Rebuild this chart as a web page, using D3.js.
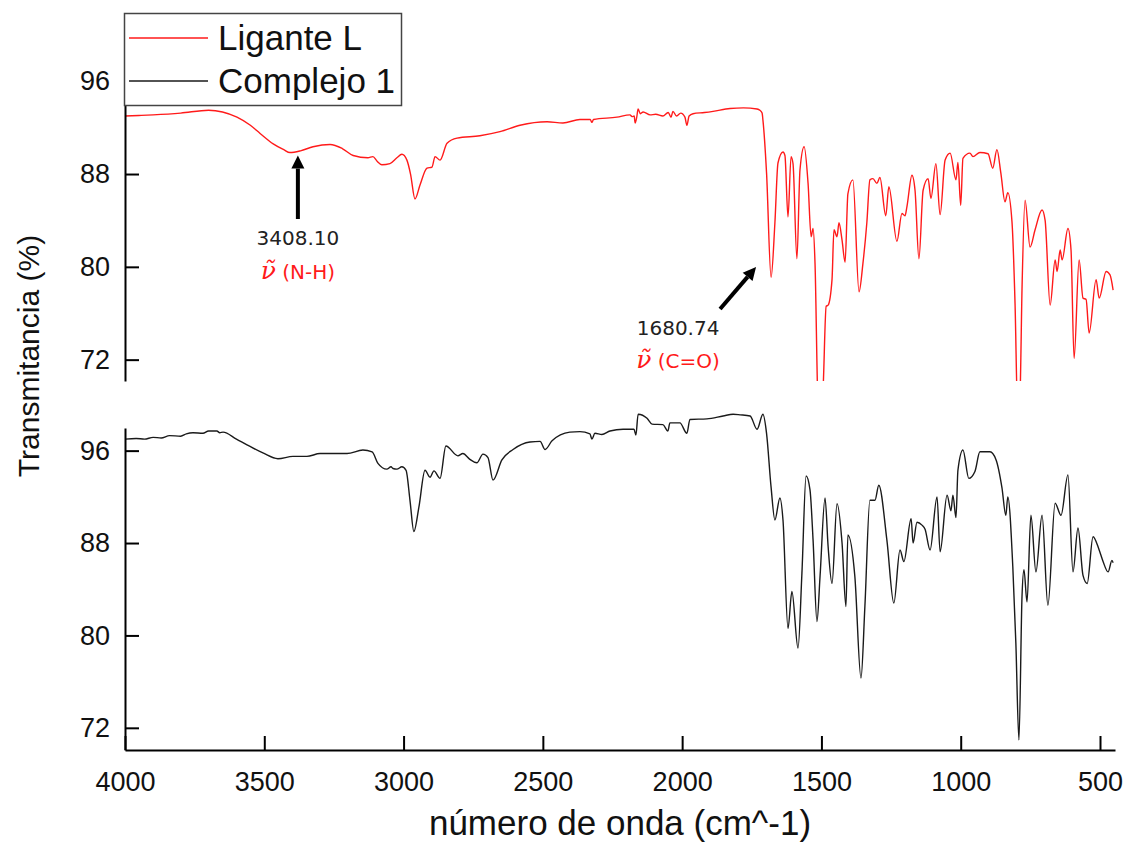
<!DOCTYPE html>
<html>
<head>
<meta charset="utf-8">
<script src="https://cdn.jsdelivr.net/npm/d3@7"></script>
<style>
  html, body { margin: 0; padding: 0; background: #fff; }
  svg { display: block; }
  .tick text { font-family: "Liberation Sans", Arial, sans-serif; fill: #111; }
</style>
</head>
<body>
<svg id="chart" width="1128" height="845"></svg>
<script>
// IR spectra: wavenumber (cm^-1) vs transmittance (%)
const ligandSpectrum = [
  [4000, 93.0], [3950, 93.05], [3899, 93.1], [3800, 93.25], [3700, 93.5], [3650, 93.35],
  [3598, 92.9], [3550, 92.2], [3515, 91.5], [3468, 90.6], [3430, 90.1], [3408.10, 89.85],
  [3370, 90.0], [3325, 90.35], [3264, 90.55], [3220, 90.2], [3181, 89.6], [3128, 89.4],
  [3110, 89.5], [3095, 89.1], [3078, 88.8], [3049, 88.9], [3024, 89.4], [3006, 89.7],
  [2988, 89.2], [2975, 88.0], [2959, 85.85], [2941, 87.05], [2916, 88.5], [2898, 88.6],
  [2887, 89.5], [2869, 89.2], [2844, 90.65], [2808, 91.1], [2726, 91.3], [2654, 91.65],
  [2582, 92.2], [2485, 92.5], [2428, 92.4], [2367, 92.7], [2330, 92.7], [2324, 92.45],
  [2318, 92.7], [2234, 92.9], [2187, 93.1], [2180, 92.95], [2172, 93.0], [2169, 92.4],
  [2163, 92.9], [2158, 93.6], [2150, 93.2], [2140, 93.35], [2115, 93.1], [2095, 93.15],
  [2069, 93.0], [2050, 93.3], [2040, 92.9], [2033, 93.4], [2020, 93.0], [2005, 93.25],
  [1990, 92.9], [1983, 92.2], [1975, 93.0], [1961, 93.2], [1920, 93.3], [1889, 93.4],
  [1828, 93.65], [1780, 93.7], [1731, 93.6], [1721, 93.5], [1713, 93.25], [1710, 92.65],
  [1697, 88.1], [1680.74, 79.1], [1667, 83.8], [1656, 88.95], [1638, 89.9], [1631, 89.6],
  [1620, 84.3], [1609, 89.5], [1602, 88.9], [1588, 80.7], [1577, 88.35], [1562, 90.35],
  [1548, 87.2], [1537, 82.6], [1530, 83.3], [1523, 80.3], [1512, 68.0], [1502, 66.5],
  [1494, 69.5], [1483, 76.6], [1476, 76.7], [1462, 78.9], [1455, 83.2], [1444, 82.6],
  [1437, 83.8], [1426, 82.3], [1415, 80.4], [1405, 86.3], [1387, 87.5], [1365, 77.85],
  [1351, 80.3], [1337, 83.8], [1326, 87.5], [1315, 87.6], [1301, 87.2], [1290, 87.7],
  [1269, 84.4], [1258, 86.9], [1229, 82.2], [1211, 84.6], [1200, 84.4], [1193, 85.2],
  [1175, 87.9], [1164, 86.6], [1150, 80.7], [1135, 86.6], [1117, 87.6], [1107, 85.9],
  [1089, 88.9], [1074, 84.5], [1056, 89.2], [1038, 89.8], [1017, 87.5], [1010, 89.0],
  [1000, 85.3], [992, 89.35], [967, 89.8], [956, 89.5], [931, 89.85], [902, 89.75],
  [885, 88.5], [870, 90.1], [856, 88.1], [841, 85.6], [831, 86.4], [816, 83.9],
  [805, 76.85], [795, 67.0], [787, 69.0], [780, 78.0], [769, 85.75], [751, 81.7],
  [733, 83.2], [708, 84.9], [697, 84.0], [679, 76.7], [661, 80.6], [654, 79.6],
  [643, 81.45], [636, 80.6], [615, 83.3], [604, 81.45], [593, 72.1], [575, 80.6],
  [561, 77.3], [550, 77.2], [539, 74.3], [514, 78.9], [503, 77.3], [478, 79.6],
  [464, 79.3], [453, 78.0]
];

const complexSpectrum = [
  [4000, 97.0], [3960, 97.05], [3930, 97.0], [3899, 97.15], [3870, 97.1], [3840, 97.3],
  [3800, 97.25], [3780, 97.45], [3756, 97.55], [3720, 97.5], [3700, 97.7], [3670, 97.7],
  [3660, 97.55], [3648, 97.6], [3600, 97.0], [3562, 96.5], [3505, 95.8], [3451, 95.3],
  [3397, 95.5], [3347, 95.5], [3300, 95.75], [3203, 95.75], [3146, 96.05], [3113, 95.9],
  [3092, 94.9], [3060, 94.4], [3045, 94.6], [3038, 94.45], [3024, 94.4], [3006, 94.6],
  [2991, 94.3], [2977, 91.7], [2963, 89.0], [2945, 91.1], [2923, 94.3], [2905, 93.7],
  [2891, 94.25], [2869, 93.6], [2848, 96.4], [2805, 95.55], [2787, 95.75], [2762, 95.25],
  [2737, 94.95], [2715, 95.7], [2697, 95.4], [2679, 93.45], [2647, 95.2], [2607, 96.1],
  [2546, 96.75], [2510, 96.8], [2492, 96.1], [2467, 96.85], [2403, 97.6], [2367, 97.65],
  [2331, 97.45], [2324, 97.0], [2313, 97.5], [2288, 97.4], [2259, 97.7], [2212, 97.85],
  [2173, 97.85], [2166, 97.35], [2158, 99.15], [2126, 98.8], [2108, 98.3], [2069, 98.25],
  [2051, 97.7], [2044, 98.4], [2008, 98.4], [1983, 97.5], [1972, 98.7], [1911, 98.75],
  [1853, 99.0], [1817, 99.15], [1792, 99.1], [1756, 99.0], [1731, 97.85], [1710, 99.15],
  [1697, 97.5], [1681, 92.9], [1667, 90.0], [1649, 91.9], [1638, 90.0], [1620, 80.6],
  [1606, 83.8], [1584, 78.9], [1570, 85.4], [1555, 93.8], [1541, 92.6], [1530, 88.25],
  [1516, 81.2], [1505, 85.1], [1487, 91.9], [1476, 87.7], [1462, 84.5], [1444, 91.4],
  [1426, 88.0], [1412, 82.5], [1405, 88.7], [1380, 85.1], [1358, 76.3], [1344, 82.5],
  [1326, 91.7], [1308, 91.7], [1294, 93.0], [1265, 88.25], [1240, 82.8], [1218, 87.4],
  [1204, 86.4], [1178, 90.1], [1171, 88.0], [1157, 89.8], [1139, 89.55], [1128, 89.2],
  [1110, 87.4], [1085, 92.0], [1074, 87.25], [1049, 92.15], [1035, 90.8], [1028, 92.15],
  [1017, 90.2], [1010, 94.3], [992, 96.05], [971, 93.6], [949, 94.2], [931, 95.9],
  [895, 95.9], [873, 95.2], [852, 92.8], [838, 90.4], [831, 92.0], [813, 85.95],
  [802, 79.3], [791, 70.95], [780, 83.35], [773, 85.7], [762, 82.9], [748, 90.4],
  [730, 85.5], [708, 90.4], [687, 82.6], [661, 91.45], [640, 90.4], [615, 93.9],
  [597, 85.5], [579, 89.3], [561, 85.2], [546, 84.5], [525, 88.55], [503, 87.4],
  [489, 86.4], [471, 85.5], [457, 86.5], [453, 86.3]
];

const seriesNames = ["Ligante L", "Complejo 1"];
const seriesColors = ["#ff1a1a", "#1a1a1a"];
const xMajorTicks = [4000, 3500, 3000, 2500, 2000, 1500, 1000, 500];
const xMinorTicks = [3750, 3250, 2750, 2250, 1750, 1250, 750];
const yMajorTicks = [96, 88, 80, 72];
const yMinorTicks = [100, 92, 84, 76];
const peakLabels = [
  { wn: 3408.10, text: "3408.10", bond: "(N-H)" },
  { wn: 1680.74, text: "1680.74", bond: "(C=O)" }
];

const svg = d3.select("#chart");
const sans = '"Liberation Sans", Arial, sans-serif';
const verd = '"DejaVu Sans", Verdana, sans-serif';

const x = d3.scaleLinear().domain([4000, 446.15]).range([125, 1115]);
const yTop = d3.scaleLinear().domain([70.16, 101.88]).range([381, 13]);
const yBot = d3.scaleLinear().domain([70.08, 97.96]).range([750, 428]);

const defs = svg.append("defs");
defs.append("clipPath").attr("id", "clipTop")
  .append("rect").attr("x", 125).attr("y", 13).attr("width", 990).attr("height", 368);
// the lower trace may rise above its axis, up to the gap under the upper panel
defs.append("clipPath").attr("id", "clipBot")
  .append("rect").attr("x", 125).attr("y", 384).attr("width", 990).attr("height", 366);

function drawLine(data, yScale, clip, color) {
  const line = d3.line()
    .x(d => x(d[0]))
    .y(d => yScale(d[1]))
    .curve(d3.curveMonotoneX);
  svg.append("path")
    .datum(data)
    .attr("clip-path", `url(#${clip})`)
    .attr("fill", "none")
    .attr("stroke", color)
    .attr("stroke-width", 1.4)
    .attr("stroke-linejoin", "round")
    .attr("d", line);
}

drawLine(ligandSpectrum, yTop, "clipTop", seriesColors[0]);
drawLine(complexSpectrum, yBot, "clipBot", seriesColors[1]);

// Y axes (ticks pointing inward)
function yAxis(yScale) {
  const g = svg.append("g").attr("transform", "translate(125,0)");
  g.call(d3.axisLeft(yScale).tickValues(yMinorTicks).tickSizeInner(-8).tickSizeOuter(0).tickFormat(""));
  g.call(d3.axisLeft(yScale).tickValues(yMajorTicks).tickSizeInner(-14).tickSizeOuter(0).tickPadding(15));
  g.selectAll("path.domain").attr("stroke", "#000").attr("stroke-width", 2);
  g.selectAll(".tick line").attr("stroke", "#000").attr("stroke-width", 2);
  g.selectAll(".tick text").attr("font-size", 27).attr("font-family", sans);
  return g;
}
yAxis(yTop);
yAxis(yBot);

// X axis at the bottom of the lower panel
const gx = svg.append("g").attr("transform", "translate(0,750)");
gx.call(d3.axisBottom(x).tickValues(xMinorTicks).tickSizeInner(-7).tickSizeOuter(0).tickFormat(""));
gx.call(d3.axisBottom(x).tickValues(xMajorTicks).tickSizeInner(-14).tickSizeOuter(0).tickPadding(22).tickFormat(d3.format("d")));
gx.selectAll("path.domain").attr("stroke", "#000").attr("stroke-width", 2);
gx.selectAll(".tick line").attr("stroke", "#000").attr("stroke-width", 2);
gx.selectAll(".tick text").attr("font-size", 27).attr("font-family", sans);

// Axis titles
svg.append("text")
  .attr("transform", "translate(39,356) rotate(-90)")
  .attr("text-anchor", "middle")
  .attr("font-family", sans).attr("font-size", 30).attr("fill", "#111")
  .text("Transmitancia (%)");
svg.append("text")
  .attr("x", 620).attr("y", 835)
  .attr("text-anchor", "middle")
  .attr("font-family", sans).attr("font-size", 35).attr("fill", "#111")
  .text("número de onda (cm^-1)");

// Legend
const leg = svg.append("g");
leg.append("rect").attr("x", 124.5).attr("y", 13.5).attr("width", 277).attr("height", 92)
  .attr("fill", "#fff").attr("stroke", "#444").attr("stroke-width", 1.5);
seriesNames.forEach((name, i) => {
  const yy = 38 + i * 43;
  leg.append("line").attr("x1", 129).attr("x2", 208).attr("y1", yy).attr("y2", yy)
    .attr("stroke", seriesColors[i]).attr("stroke-width", 1.4);
  leg.append("text").attr("x", 218).attr("y", yy + 12)
    .attr("font-family", sans).attr("font-size", 35).attr("fill", "#111")
    .text(name);
});

// Peak annotations
function arrow(x1, y1, x2, y2) {
  const ang = Math.atan2(y2 - y1, x2 - x1);
  const headLen = 13, headW = 6.5;
  const bx = x2 - headLen * Math.cos(ang), by = y2 - headLen * Math.sin(ang);
  svg.append("line").attr("x1", x1).attr("y1", y1).attr("x2", bx).attr("y2", by)
    .attr("stroke", "#000").attr("stroke-width", 4);
  const px = -Math.sin(ang) * headW, py = Math.cos(ang) * headW;
  svg.append("path")
    .attr("d", `M${x2},${y2}L${bx + px},${by + py}L${bx - px},${by - py}Z`)
    .attr("fill", "#000");
}

function label(cx, yNum, yBond, p) {
  svg.append("text").attr("x", cx).attr("y", yNum).attr("text-anchor", "middle")
    .attr("font-family", verd).attr("font-size", 20).attr("fill", "#222")
    .text(p.text);
  const t = svg.append("text").attr("x", cx).attr("y", yBond).attr("text-anchor", "middle")
    .attr("fill", "#ff1a1a");
  t.append("tspan").attr("font-family", '"DejaVu Serif", serif').attr("font-style", "italic")
    .attr("font-size", 25).text("\u03BD\u0303");
  t.append("tspan").attr("font-family", verd).attr("font-size", 20).text(" " + p.bond);
}

// N-H band: vertical arrow beneath the broad minimum
const nh = peakLabels[0];
const nhX = x(nh.wn) + 8;
arrow(nhX, 219, nhX, yTop(89.85) + 3);
label(nhX, 245, 279, nh);

// C=O band: diagonal arrow toward the sharp minimum
const co = peakLabels[1];
const coX = x(co.wn);
arrow(coX - 51, 309, coX - 15, 267);
label(coX - 93, 335, 368, co);
</script>
</body>
</html>
